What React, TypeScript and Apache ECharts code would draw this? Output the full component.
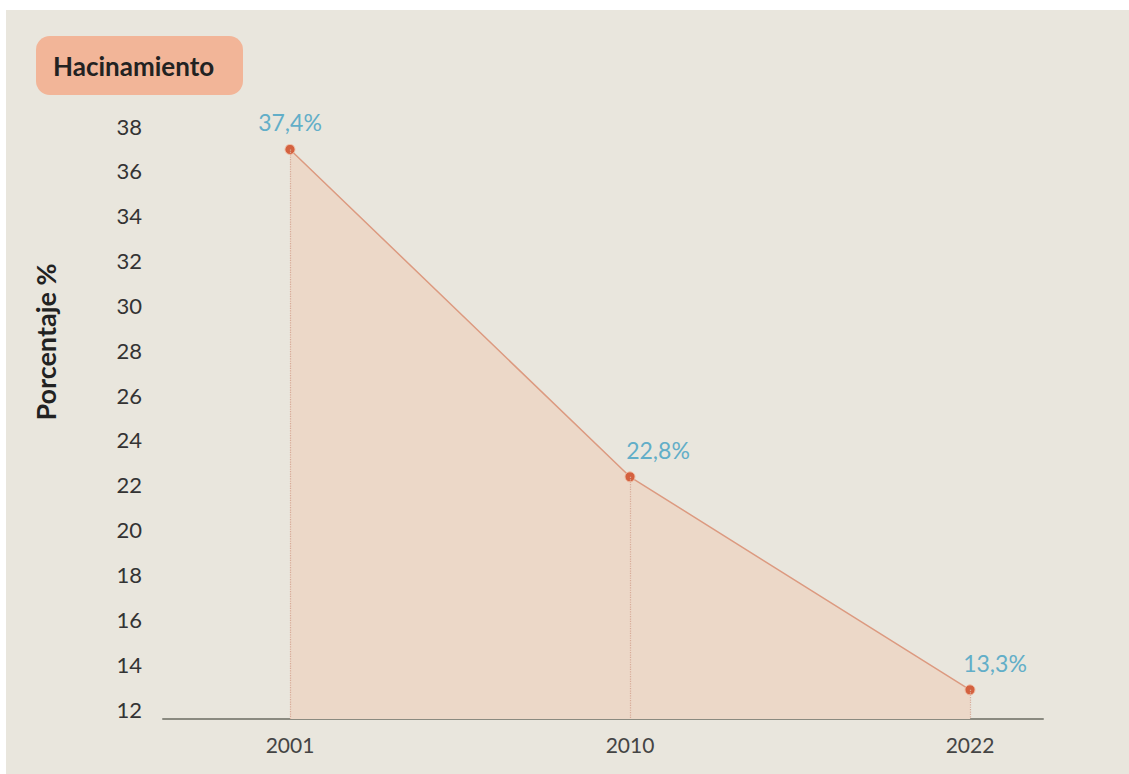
import React, { useEffect, useRef } from "react";
import * as echarts from "echarts";

const years = ["2001", "2010", "2022"];
const values = [37.4, 22.8, 13.3];
const labelOffsets = [[0, 0], [28, 0], [25, 0]];
const yTicks = { min: 12, max: 38, interval: 2 };
const title = "Hacinamiento";
const yName = "Porcentaje %";

export default function App() {
  const ref = useRef<HTMLDivElement>(null);
  useEffect(() => {
    if (!ref.current) return;
    const chart = echarts.init(ref.current, null, { renderer: "svg" });
    const data = values.map((v, i) => ({
      value: [i, v],
      label: { offset: labelOffsets[i] },
    }));
    const drops = values.map((v, i) => [
      { coord: [i, v] },
      { coord: [i, yTicks.min] },
    ]);
    chart.setOption({
      animation: false,
      backgroundColor: "#e9e6dd",
      textStyle: { fontFamily: "Lato" },
      grid: { left: 157, right: 86, top: 126, bottom: 55 },
      xAxis: {
        type: "value",
        min: -0.3735,
        max: 2.2147,
        splitLine: { show: false },
        axisTick: { show: false },
        axisLine: { show: true, onZero: false, lineStyle: { color: "#8a8a80", width: 2 } },
        axisLabel: {
          margin: 15,
          fontSize: 21,
          color: "#444",
          fontFamily: "Lato",
          showMinLabel: false,
          showMaxLabel: false,
          formatter: (v: number) => (Number.isInteger(v) && years[v] ? years[v] : ""),
        },
      },
      yAxis: {
        type: "value",
        min: yTicks.min,
        max: yTicks.max,
        interval: yTicks.interval,
        axisLine: { show: false },
        axisTick: { show: false },
        splitLine: { show: false },
        axisLabel: {
          margin: 21,
          fontSize: 22,
          color: "#333",
          fontFamily: "Lato",
          verticalAlign: "bottom",
          lineHeight: 20,
        },
      },
      graphic: [
        {
          type: "rect",
          shape: { x: 30, y: 26, width: 207, height: 59, r: 14 },
          style: { fill: "#f2b598" },
        },
        {
          type: "text",
          x: 47,
          y: 56,
          style: {
            text: title,
            fontSize: 26,
            fontWeight: "bold",
            fontFamily: "Lato",
            fill: "#222",
            verticalAlign: "middle",
            align: "left",
          },
        },
        {
          type: "text",
          x: 39,
          y: 332,
          rotation: Math.PI / 2,
          style: {
            text: yName,
            fontSize: 27,
            fontWeight: "bold",
            fontFamily: "Lato",
            fill: "#222",
            align: "center",
            verticalAlign: "middle",
          },
        },
      ],
      series: [
        {
          type: "line",
          data,
          symbol: "circle",
          symbolSize: 10,
          itemStyle: { color: "#d4613f", borderColor: "#f0c0a8", borderWidth: 1 },
          lineStyle: { color: "#dc9a80", width: 1.5 },
          areaStyle: { color: "#ecd8c8", opacity: 1, origin: "start" },
          label: {
            show: true,
            position: "top",
            distance: 10,
            color: "#62aec8",
            fontSize: 23,
            fontFamily: "Lato",
            formatter: (p: any) => p.value[1].toFixed(1).replace(".", ",") + "%",
          },
          markLine: {
            silent: true,
            symbol: "none",
            label: { show: false },
            lineStyle: { color: "#d8aa98", type: "dotted", width: 1.2 },
            data: drops,
          },
          z: 3,
        },
      ],
    });
    return () => chart.dispose();
  }, []);
  return (
    <div style={{ position: "fixed", left: 0, top: 0, width: 1129, height: 774, background: "#fff" }}>
      <div ref={ref} style={{ position: "absolute", left: 6, top: 10, width: 1123, height: 764 }} />
    </div>
  );
}
